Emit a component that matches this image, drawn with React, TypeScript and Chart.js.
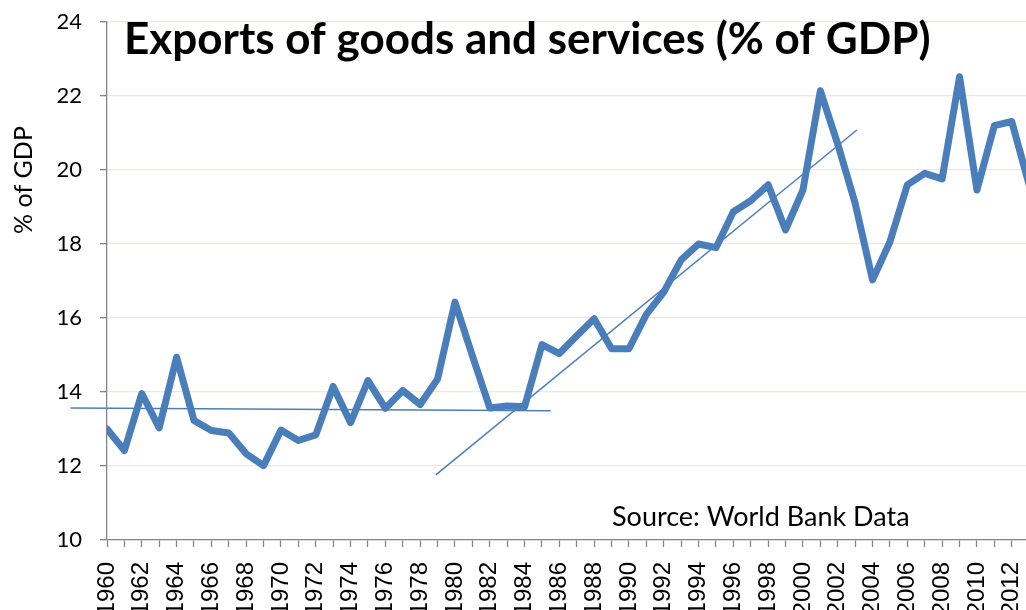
import { useEffect, useRef } from 'react';
import { Chart, registerables } from 'chart.js';

Chart.register(...registerables);

const years = [
  1960, 1961, 1962, 1963, 1964, 1965, 1966, 1967, 1968, 1969,
  1970, 1971, 1972, 1973, 1974, 1975, 1976, 1977, 1978, 1979,
  1980, 1981, 1982, 1983, 1984, 1985, 1986, 1987, 1988, 1989,
  1990, 1991, 1992, 1993, 1994, 1995, 1996, 1997, 1998, 1999,
  2000, 2001, 2002, 2003, 2004, 2005, 2006, 2007, 2008, 2009,
  2010, 2011, 2012, 2013,
];

const exportsPctGdp = [
  13.0, 12.42, 13.96, 13.03, 14.94, 13.23, 12.96, 12.89, 12.33, 12.01,
  12.97, 12.69, 12.84, 14.15, 13.17, 14.31, 13.56, 14.04, 13.66, 14.35,
  16.43, 14.98, 13.57, 13.62, 13.6, 15.28, 15.04, 15.52, 15.98, 15.17,
  15.17, 16.1, 16.7, 17.57, 18.0, 17.9, 18.87, 19.17, 19.6, 18.38,
  19.46, 22.14, 20.7, 19.1, 17.03, 18.06, 19.6, 19.91, 19.76, 22.52,
  19.46, 21.2, 21.31, 19.6,
];

const flatTrendYears = [1957.9, 1985.5];
const flatTrendValues = [13.57, 13.49];
const riseTrendYears = [1978.9, 2003.1];
const riseTrendValues = [11.76, 21.08];

const yMin = 10;
const yMax = 24;
const yStep = 2;
const xMin = 1960;
const xMax = 2012.82;

const TITLE = 'Exports of goods and services (% of GDP)';
const SOURCE = 'Source: World Bank Data';
const Y_TITLE = '% of GDP';

const LINE_COLOR = '#4A7EBB';
const AXIS_COLOR = '#868686';
const GRID_COLOR = '#FBE4D2';

const CANVAS_W = 1026;
const CANVAS_H = 640;

const overlayText = {
  id: 'overlayText',
  afterDraw(chart: any) {
    const ctx = chart.ctx as CanvasRenderingContext2D;
    ctx.save();
    ctx.fillStyle = '#000000';
    ctx.textBaseline = 'alphabetic';
    ctx.textAlign = 'left';
    ctx.font = 'bold 44px Lato';
    ctx.fillText(TITLE, 124, 54);
    ctx.font = '27px Lato';
    ctx.fillText(SOURCE, 612, 526);
    ctx.translate(32, 180);
    ctx.rotate(-Math.PI / 2);
    ctx.textAlign = 'center';
    ctx.font = '25px Lato';
    ctx.fillText(Y_TITLE, 0, 0);
    ctx.restore();
  },
};

export default function App() {
  const canvasRef = useRef<HTMLCanvasElement | null>(null);

  useEffect(() => {
    document.body.style.margin = '0';
    const canvas = canvasRef.current;
    if (!canvas) return;

    const mainData = years.map((yr, i) => ({ x: yr, y: exportsPctGdp[i] }));
    const flatData = flatTrendYears.map((yr, i) => ({ x: yr, y: flatTrendValues[i] }));
    const riseData = riseTrendYears.map((yr, i) => ({ x: yr, y: riseTrendValues[i] }));

    const chart = new Chart(canvas, {
      type: 'line',
      data: {
        datasets: [
          {
            data: mainData,
            borderColor: LINE_COLOR,
            borderWidth: 7,
            pointRadius: 0,
            tension: 0,
            borderJoinStyle: 'round',
            borderCapStyle: 'round',
            fill: false,
          },
          {
            data: flatData,
            borderColor: LINE_COLOR,
            borderWidth: 1.5,
            pointRadius: 0,
            tension: 0,
            fill: false,
            clip: false,
          },
          {
            data: riseData,
            borderColor: LINE_COLOR,
            borderWidth: 1.5,
            pointRadius: 0,
            tension: 0,
            fill: false,
            clip: false,
          },
        ],
      } as any,
      options: {
        responsive: false,
        animation: false,
        devicePixelRatio: 1,
        layout: { padding: { top: 22, left: 0, right: 0, bottom: 0 } },
        plugins: {
          legend: { display: false },
          tooltip: { enabled: false },
          title: { display: false },
        },
        scales: {
          x: {
            type: 'linear',
            min: xMin,
            max: xMax,
            afterBuildTicks: (scale: any) => {
              scale.ticks = years
                .filter((yr) => yr <= xMax)
                .map((yr) => ({ value: yr }));
            },
            afterFit: (scale: any) => {
              scale.height = CANVAS_H - 540;
              scale.paddingRight = 0;
            },
            ticks: {
              stepSize: 1,
              autoSkip: false,
              includeBounds: false,
              maxRotation: 90,
              minRotation: 90,
              padding: 15,
              color: '#000000',
              font: { family: 'Liberation Sans', size: 24 },
              callback: (v: any) => (Number(v) % 2 === 0 ? String(v) : ''),
            },
            grid: {
              display: true,
              drawOnChartArea: false,
              drawTicks: true,
              tickLength: 7,
              tickColor: AXIS_COLOR,
              tickWidth: 1.3,
            },
            border: { display: true, color: AXIS_COLOR, width: 1.3 },
          },
          y: {
            type: 'linear',
            min: yMin,
            max: yMax,
            afterFit: (scale: any) => {
              scale.width = 107;
              scale.paddingTop = 0;
              scale.paddingBottom = 0;
            },
            ticks: {
              stepSize: yStep,
              padding: 18,
              color: '#000000',
              font: { family: 'Lato', size: 22 },
            },
            grid: {
              color: GRID_COLOR,
              lineWidth: 1.3,
              drawTicks: true,
              tickLength: 7,
              tickColor: AXIS_COLOR,
              tickWidth: 1.3,
            },
            border: { display: true, color: AXIS_COLOR, width: 1.3 },
          },
        },
      } as any,
      plugins: [overlayText],
    });

    return () => {
      chart.destroy();
    };
  }, []);

  return (
    <div
      style={{
        position: 'fixed',
        left: 0,
        top: 0,
        width: CANVAS_W,
        height: 610,
        overflow: 'hidden',
        background: '#ffffff',
      }}
    >
      <canvas
        ref={canvasRef}
        width={CANVAS_W}
        height={CANVAS_H}
        style={{ width: CANVAS_W, height: CANVAS_H, display: 'block' }}
      />
    </div>
  );
}
